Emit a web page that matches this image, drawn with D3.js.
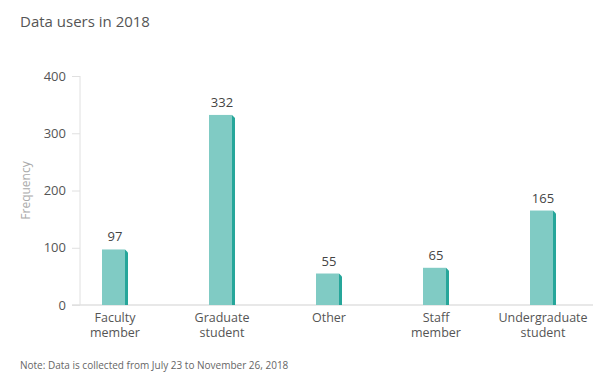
<!DOCTYPE html>
<html><head><meta charset="utf-8">
<script src="https://cdn.jsdelivr.net/npm/d3@7"></script>
<style>body{margin:0;background:#fff}svg{display:block;font-family:"Open Sans",sans-serif}</style>
</head><body>
<script>
const categories = [["Faculty","member"],["Graduate","student"],["Other"],["Staff","member"],["Undergraduate","student"]];
const values = [97, 332, 55, 65, 165];
const yTicks = [0, 100, 200, 300, 400];

const W = 604, H = 380;
const svg = d3.select("body").append("svg").attr("width", W).attr("height", H);

const x = d3.scalePoint().domain(d3.range(categories.length)).range([115, 543]);
const y = d3.scaleLinear().domain([0, 400]).range([305, 76]);
const bw = 23, side = 3;

svg.append("text").attr("x", 20).attr("y", 27).attr("fill", "#555").attr("font-size", 15).text("Data users in 2018");

// y axis
const ya = svg.append("g").attr("transform", "translate(80,0)").call(d3.axisLeft(y).tickValues(yTicks).tickSize(8).tickPadding(6));
ya.select(".domain").attr("stroke", "#e0e0e0").attr("d", `M0,${y(400)}V${y(0)}`);
ya.selectAll(".tick line").attr("stroke", "#e0e0e0");
ya.selectAll(".tick text").attr("fill", "#555").attr("font-size", 13).attr("font-family", "Open Sans");

// baseline
svg.append("line").attr("x1", 72).attr("x2", 593).attr("y1", y(0)).attr("y2", y(0)).attr("stroke", "#e0e0e0").attr("stroke-width", 1.5);

svg.append("text").attr("transform", `translate(30,${(y(0)+y(400))/2}) rotate(-90)`).attr("text-anchor", "middle")
  .attr("fill", "#aaa").attr("font-size", 12).text("Frequency");

const g = svg.append("g");
values.forEach((v, i) => {
  const x0 = x(i) - 13;
  g.append("polygon").attr("fill", "#26a69a")
    .attr("points", `${x0+bw},${y(v)} ${x0+bw+side},${y(v)+side} ${x0+bw+side},${y(0)} ${x0+bw},${y(0)}`);
  g.append("rect").attr("x", x0).attr("y", y(v)).attr("width", bw).attr("height", y(0) - y(v)).attr("fill", "#80cbc4");
  g.append("text").attr("x", x(i)).attr("y", y(v) - 8).attr("text-anchor", "middle").attr("fill", "#444").attr("font-size", 13).text(v);
  categories[i].forEach((line, k) => {
    g.append("text").attr("text-anchor", "middle").attr("fill", "#555").attr("font-size", 12.5)
      .attr("x", x(i)).attr("y", 322 + k * 15).text(line);
  });
});

svg.append("text").attr("x", 20).attr("y", 369).attr("fill", "#666").attr("font-size", 10).text("Note: Data is collected from July 23 to November 26, 2018");
</script>
</body></html>
